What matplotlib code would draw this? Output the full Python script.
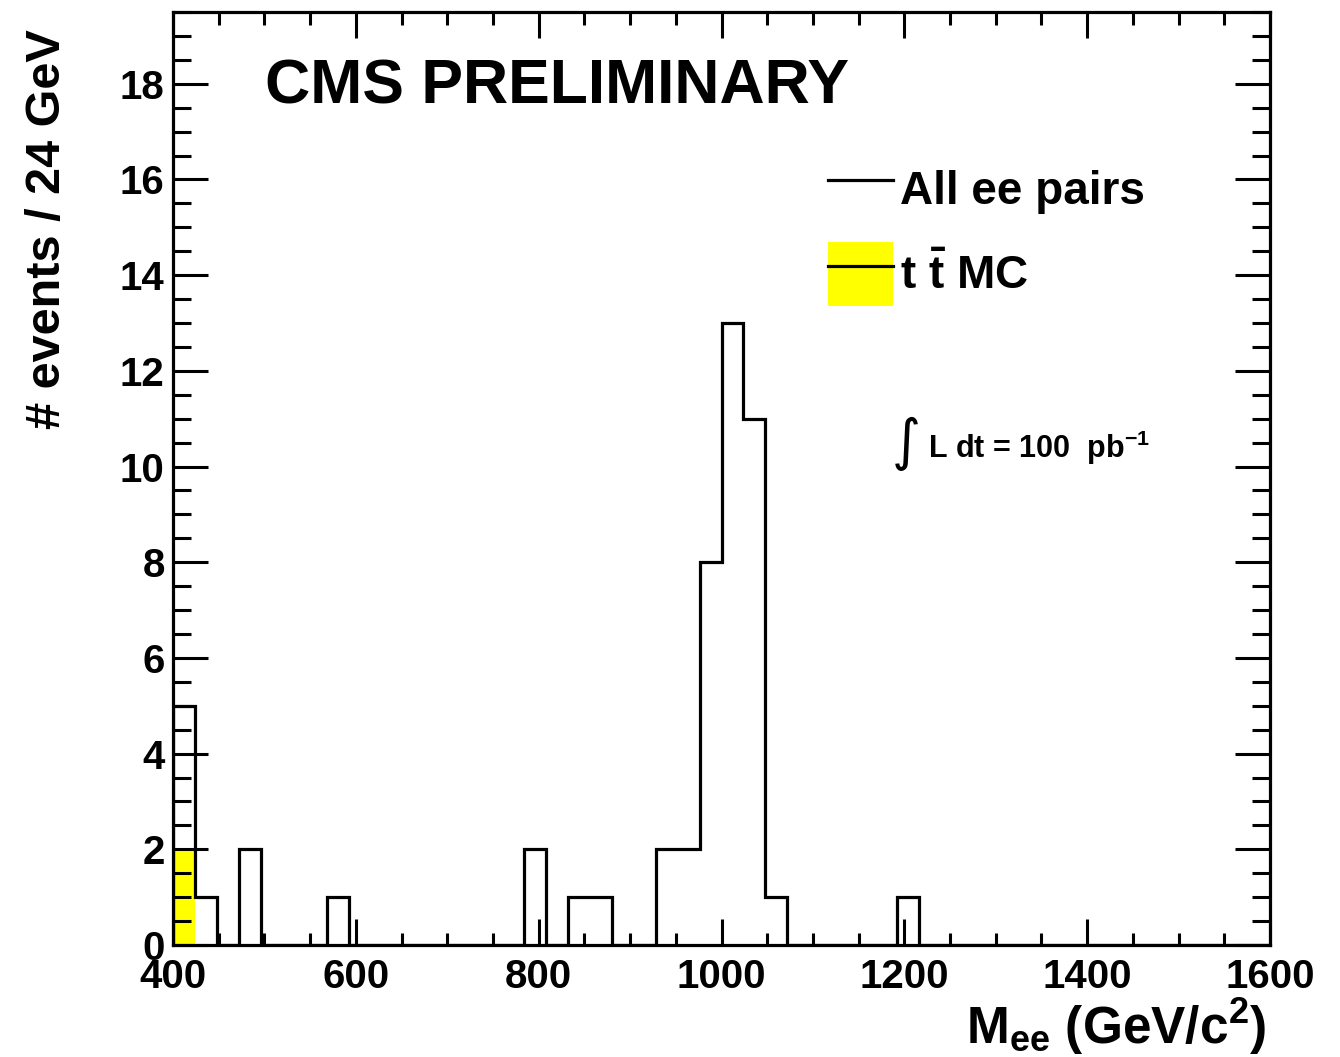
import numpy as np
import matplotlib
matplotlib.use('Agg')
import matplotlib.pyplot as plt
from matplotlib.lines import Line2D
from matplotlib.patches import Patch
from matplotlib.ticker import MultipleLocator

# 24 GeV bins from 400 to 1600
bin_edges = np.arange(400, 1600 + 1, 24)
all_ee_counts = [5, 1, 0, 2, 0, 0, 0, 1, 0, 0,
                 0, 0, 0, 0, 0, 0, 2, 0, 1, 1,
                 0, 0, 2, 2, 8, 13, 11, 1, 0, 0,
                 0, 0, 0, 1, 0, 0, 0, 0, 0, 0,
                 0, 0, 0, 0, 0, 0, 0, 0, 0, 0]
ttbar_counts = [2] + [0] * 49

plt.rcParams['font.family'] = ['Liberation Sans', 'DejaVu Sans']
plt.rcParams['font.weight'] = 'bold'
plt.rcParams['mathtext.fontset'] = 'custom'
plt.rcParams['mathtext.rm'] = 'Liberation Sans:bold'
plt.rcParams['mathtext.it'] = 'Liberation Sans:bold'
plt.rcParams['mathtext.bf'] = 'Liberation Sans:bold'
plt.rcParams['mathtext.sf'] = 'Liberation Sans:bold'

fig = plt.figure(figsize=(13.4, 10.57), dpi=100)
ax = fig.add_axes([173 / 1340, 112 / 1057, 1097 / 1340, 933 / 1057])

ax.stairs(ttbar_counts, bin_edges, fill=True, color='#ffff00', zorder=1)
ax.stairs(all_ee_counts, bin_edges, color='black', linewidth=2.3, zorder=2)

ax.set_xlim(400, 1600)
ax.set_ylim(0, 19.5)

ax.xaxis.set_major_locator(MultipleLocator(200))
ax.xaxis.set_minor_locator(MultipleLocator(50))
ax.yaxis.set_major_locator(MultipleLocator(2))
ax.yaxis.set_minor_locator(MultipleLocator(0.5))

for s in ax.spines.values():
    s.set_linewidth(2.3)

ax.tick_params(axis='both', which='both', direction='in', top=True, right=True,
               width=2.2, labelsize=29)
ax.tick_params(axis='x', which='major', length=19, pad=9)
ax.tick_params(axis='x', which='minor', length=9)
ax.tick_params(axis='y', which='major', length=25, pad=6)
ax.tick_params(axis='y', which='minor', length=13)
for lbl in ax.get_xticklabels() + ax.get_yticklabels():
    lbl.set_fontweight('bold')

ax.set_ylabel('# events / 24 GeV', fontsize=35, fontweight='bold', loc='top')
ax.yaxis.set_label_coords(-0.094, 0.981)
ax.set_xlabel(r'M$_{\mathrm{ee}}$ (GeV/c$^{2}$)', fontsize=37, fontweight='bold', loc='right')
ax.xaxis.label.set_va('baseline')
ax.xaxis.set_label_coords(0.997, -0.106)

ax.text((265 - 173) / 1097, (945 - 87) / 933, 'CMS PRELIMINARY', transform=ax.transAxes,
        fontsize=45, fontweight='bold', ha='left', va='center')

ax.text((892 - 173) / 1097, (945 - 444) / 933, '\u222b', transform=ax.transAxes,
        fontsize=40, fontweight='normal', family='DejaVu Sans', ha='left', va='center')
ax.text((928 - 173) / 1097, (945 - 448) / 933, r'L dt = 100  pb$^{-1}$', transform=ax.transAxes,
        fontsize=22, fontweight='bold', ha='left', va='center')

handles = [Line2D([], [], color='black', linewidth=2.3),
           (Patch(facecolor='#ffff00', edgecolor='none'), Line2D([], [], color='black', linewidth=2.3))]
labels = ['All ee pairs', r't $\bar{\mathrm{t}}$ MC']
leg = fig.legend(handles, labels, loc='upper left', bbox_to_anchor=(828 / 1340, 1 - 157 / 1057),
                 frameon=False, borderpad=0, borderaxespad=0, fontsize=33,
                 handlelength=1.42, handleheight=1.75, handletextpad=0.15, labelspacing=0.48)
for t in leg.get_texts():
    t.set_fontweight('bold')

fig.savefig('out.png', dpi=100, facecolor='white')
